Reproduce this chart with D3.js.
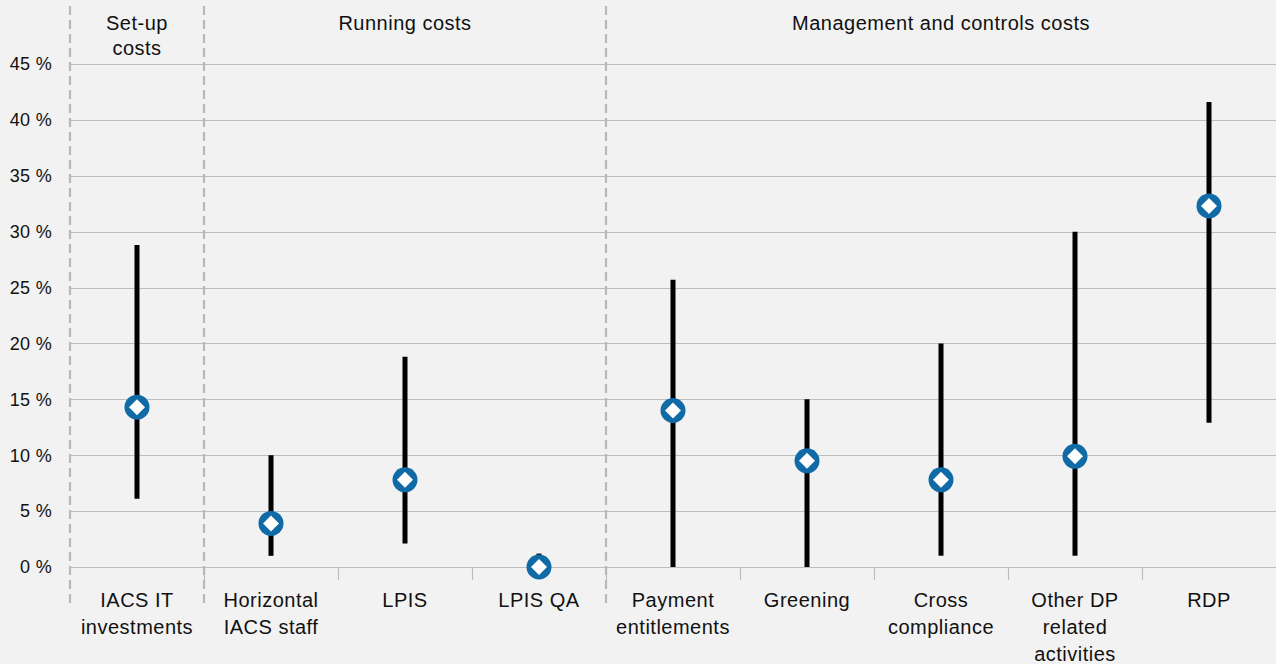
<!DOCTYPE html>
<html>
<head>
<meta charset="utf-8">
<script src="https://cdn.jsdelivr.net/npm/d3@7"></script>
<style>
  body { margin: 0; background: #f2f2f2; }
  svg { display: block; font-family: "Liberation Sans", Arial, sans-serif; }
</style>
</head>
<body>
<svg width="1276" height="664"></svg>
<script>
// categories (multi-line labels split by |)
var categories = ["IACS IT|investments", "Horizontal|IACS staff", "LPIS", "LPIS QA",
                  "Payment|entitlements", "Greening", "Cross|compliance",
                  "Other DP|related|activities", "RDP"];
var lowValues  = [6.1, 1.0, 2.1, -1.0, 0.0, 0.0, 1.0, 1.0, 12.9];
var highValues = [28.8, 10.0, 18.8, 1.2, 25.7, 15.0, 20.0, 30.0, 41.6];
var midValues  = [14.3, 3.9, 7.8, 0.0, 14.0, 9.5, 7.8, 9.9, 32.3];
var yTicks = [0, 5, 10, 15, 20, 25, 30, 35, 40, 45];
// groups: first and last category index, header label
var groupNames = ["Set-up|costs", "Running costs", "Management and controls costs"];
var groupStart = [0, 1, 4];
var groupEnd   = [0, 3, 8];

var svg = d3.select("svg"),
    width = +svg.attr("width"),
    height = +svg.attr("height");

var x = d3.scaleBand()
    .domain(d3.range(categories.length))
    .range([70, 1276])
    .padding(0);

var y = d3.scaleLinear()
    .domain([0, 45])
    .range([567, 64]);

// gridlines
svg.append("g").selectAll("line")
  .data(yTicks)
  .enter().append("line")
    .attr("x1", 70).attr("x2", width)
    .attr("y1", function(d) { return Math.round(y(d)) + 0.5; })
    .attr("y2", function(d) { return Math.round(y(d)) + 0.5; })
    .attr("stroke", "#bdbdbd")
    .attr("stroke-width", 1.2);

// y tick labels
svg.append("g").selectAll("text")
  .data(yTicks)
  .enter().append("text")
    .attr("x", 52)
    .attr("y", function(d) { return y(d); })
    .attr("dy", "0.35em")
    .attr("text-anchor", "end")
    .attr("font-size", 18)
    .attr("letter-spacing", 0.3)
    .attr("fill", "#111")
    .text(function(d) { return d + " %"; });

// small ticks below axis at band boundaries
svg.append("g").selectAll("line")
  .data(d3.range(1, categories.length))
  .enter().append("line")
    .attr("x1", function(i) { return Math.round(x(i)) + 0.5; })
    .attr("x2", function(i) { return Math.round(x(i)) + 0.5; })
    .attr("y1", y(0)).attr("y2", y(0) + 13)
    .attr("stroke", "#bdbdbd")
    .attr("stroke-width", 1.2);

// dashed group separators
var seps = [0].concat(groupEnd.slice(0, -1).map(function(e) { return e + 1; }));
svg.append("g").selectAll("line")
  .data(seps)
  .enter().append("line")
    .attr("x1", function(i) { return x(i); })
    .attr("x2", function(i) { return x(i); })
    .attr("y1", 6).attr("y2", 608)
    .attr("stroke", "#b8b8b8")
    .attr("stroke-width", 2.2)
    .attr("stroke-dasharray", "9,5");

// group headers
var headers = svg.append("g").selectAll("text")
  .data(groupNames)
  .enter().append("text")
    .attr("text-anchor", "middle")
    .attr("font-size", 20)
    .attr("letter-spacing", 0.5)
    .attr("fill", "#111")
    .attr("transform", function(d, i) {
      var cx = (x(groupStart[i]) + x(groupEnd[i]) + x.bandwidth()) / 2;
      return "translate(" + cx + ",30)";
    });
headers.selectAll("tspan")
  .data(function(d) { return d.split("|"); })
  .enter().append("tspan")
    .attr("x", 0)
    .attr("dy", function(d, i) { return i ? 25 : 0; })
    .text(function(d) { return d; });

// category labels
var labels = svg.append("g").selectAll("text")
  .data(categories)
  .enter().append("text")
    .attr("text-anchor", "middle")
    .attr("font-size", 20)
    .attr("letter-spacing", 0.5)
    .attr("fill", "#111")
    .attr("transform", function(d, i) {
      return "translate(" + (x(i) + x.bandwidth() / 2) + ",607)";
    });
labels.selectAll("tspan")
  .data(function(d) { return d.split("|"); })
  .enter().append("tspan")
    .attr("x", 0)
    .attr("dy", function(d, i) { return i ? 27 : 0; })
    .text(function(d) { return d; });

// error bars
svg.append("g").selectAll("line")
  .data(categories)
  .enter().append("line")
    .attr("x1", function(d, i) { return x(i) + x.bandwidth() / 2; })
    .attr("x2", function(d, i) { return x(i) + x.bandwidth() / 2; })
    .attr("y1", function(d, i) { return y(lowValues[i]); })
    .attr("y2", function(d, i) { return y(highValues[i]); })
    .attr("stroke", "#000")
    .attr("stroke-width", 5);

// markers: blue circle with white diamond
var markers = svg.append("g").selectAll("g")
  .data(categories)
  .enter().append("g")
    .attr("transform", function(d, i) {
      return "translate(" + (x(i) + x.bandwidth() / 2) + "," + y(midValues[i]) + ")";
    });
markers.append("circle")
    .attr("r", 12.5)
    .attr("fill", "#0f6aa6");
markers.append("path")
    .attr("d", "M0,-8L8,0L0,8L-8,0Z")
    .attr("fill", "#fff");
</script>
</body>
</html>
